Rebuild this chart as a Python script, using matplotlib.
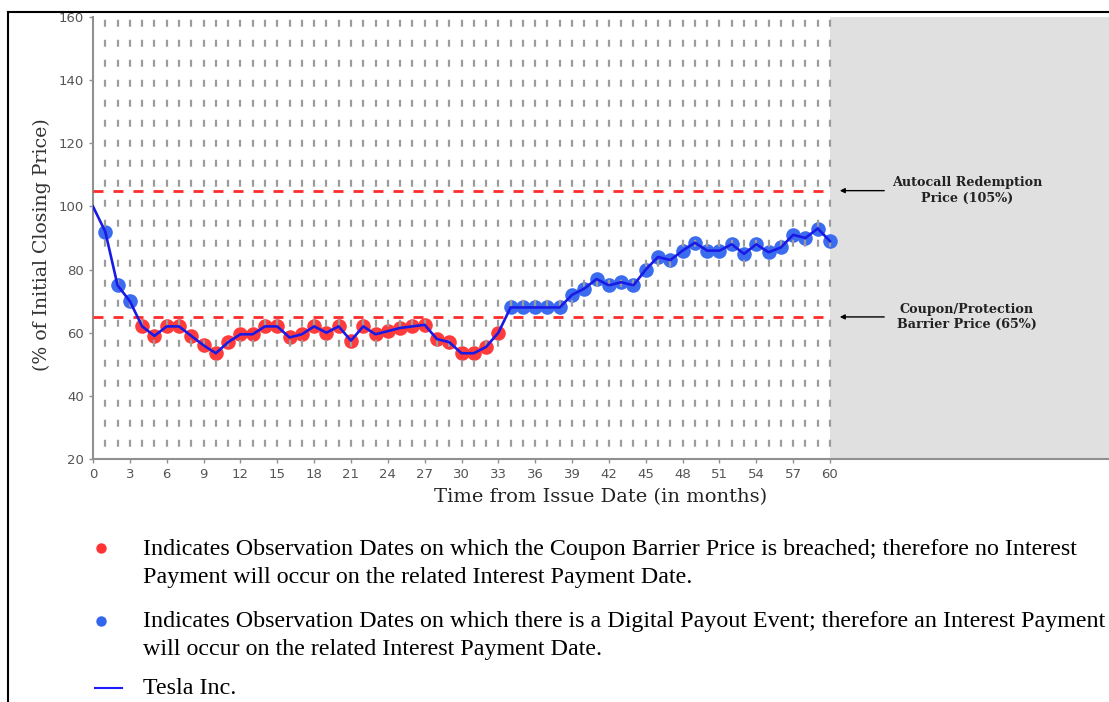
import matplotlib
matplotlib.use("Agg")
import matplotlib.pyplot as plt
from matplotlib.lines import Line2D
import numpy as np

plt.rcParams['lines.scale_dashes'] = False

# ---- data ----
months = list(range(0, 61))
closing_pct = [100, 92, 75, 70, 62, 59, 62, 62, 59, 56,
               53.5, 57, 59.5, 59.5, 62, 62, 58.5, 59.5, 62, 60,
               62, 57.5, 62, 59.5, 60.5, 61.5, 62, 62.5, 58, 57,
               53.5, 53.5, 55.5, 60, 68, 68, 68, 68, 68, 72,
               74, 77, 75, 76, 75, 80, 84, 83, 86, 88.5,
               86, 86, 88, 85, 88, 85.5, 87, 91, 90, 93, 89]
autocall_level = 105
barrier_level = 65
x_ticks = list(range(0, 61, 3))
y_ticks = list(range(20, 161, 20))

obs_months = np.array(months[1:])
obs_vals = np.array(closing_pct[1:])
breach = obs_vals < barrier_level

W, H = 1109, 702
fig = plt.figure(figsize=(W / 100, H / 100), dpi=100)

x0_px, x60_px = 93, 830
ax_left, ax_right = 93, 1109
ax_top, ax_bot = 17, 459
xmax = 60 * (ax_right - x0_px) / (x60_px - x0_px)
ax = fig.add_axes([ax_left / W, 1 - ax_bot / H, (ax_right - ax_left) / W, (ax_bot - ax_top) / H])
ax.set_xlim(0, xmax)
ax.set_ylim(20, 160)

# grey region after maturity
ax.axvspan(60, xmax, color='#e0e0e0', zorder=0, lw=0)

# markers
ax.plot(obs_months[breach], obs_vals[breach], 'o', ms=10.5, color='#ff3b3b', mec='none', zorder=2)
ax.plot(obs_months[~breach], obs_vals[~breach], 'o', ms=10.5, color='#3b6cf0', mec='none', zorder=2)

# vertical dashed grid
ax.vlines(obs_months, 160, 20, colors='#9c9c9c', lw=1.6,
          linestyles=[(12.4, (5.0, 9.4))], zorder=3)

# barrier lines
for lvl in (autocall_level, barrier_level):
    ax.plot([0, 60], [lvl, lvl], color='#ff2a2a', lw=2, ls=(0, (7.2, 7.2)), zorder=3)

# price line
ax.plot(months, closing_pct, color='#1a1ae6', lw=1.9, zorder=4, solid_joinstyle='round')

# axes styling
for s in ('top', 'right'):
    ax.spines[s].set_visible(False)
for s in ('left', 'bottom'):
    ax.spines[s].set_color('#909090')
    ax.spines[s].set_linewidth(1.5)
ax.set_xticks(x_ticks)
ax.set_yticks(y_ticks)
ax.tick_params(colors='#909090', labelcolor='#555555', labelsize=9.5, length=3, width=1)
ax.set_xlabel('Time from Issue Date (in months)', family='DejaVu Serif', fontsize=14,
              color='#222222', labelpad=5)
ax.set_ylabel('(% of Initial Closing Price)', family='DejaVu Serif', fontsize=13.6,
              color='#333333')
ax.yaxis.set_label_coords(-0.041, 0.486)

# annotations
def xf(px):
    return (px - x0_px) / (x60_px - x0_px) * 60

for lvl, txt in ((autocall_level, 'Autocall Redemption\nPrice (105%)'),
                 (barrier_level, 'Coupon/Protection\nBarrier Price (65%)')):
    ax.annotate('', xy=(xf(837), lvl), xytext=(xf(887), lvl),
                arrowprops=dict(arrowstyle='-|>', color='black', lw=1, mutation_scale=7),
                annotation_clip=False)
    ax.text(xf(967), lvl, txt, ha='center', va='center', family='DejaVu Serif',
            fontweight='bold', fontsize=9.2, color='#222222', linespacing=1.25)

# document border
fig.add_artist(Line2D([8 / W, 8 / W], [0, 1 - 12 / H], color='black', lw=1.5))
fig.add_artist(Line2D([8 / W, 1], [1 - 12 / H, 1 - 12 / H], color='black', lw=1.5))

# legend below
def fy(py):
    return 1 - py / H

fig.add_artist(Line2D([101 / W], [fy(548)], marker='o', ms=7.5, color='#ff3333', mec='none'))
fig.add_artist(Line2D([101 / W], [fy(621)], marker='o', ms=7.5, color='#3366ee', mec='none'))
fig.add_artist(Line2D([95 / W, 122 / W], [fy(688), fy(688)], color='#1a1aff', lw=1.5))
tkw = dict(family='Liberation Serif', fontsize=17.3, color='black', va='center', ha='left')
fig.text(143 / W, fy(549), 'Indicates Observation Dates on which the Coupon Barrier Price is breached; therefore no Interest', **tkw)
fig.text(143 / W, fy(577), 'Payment will occur on the related Interest Payment Date.', **tkw)
fig.text(143 / W, fy(621), 'Indicates Observation Dates on which there is a Digital Payout Event; therefore an Interest Payment', **tkw)
fig.text(143 / W, fy(649), 'will occur on the related Interest Payment Date.', **tkw)
fig.text(143 / W, fy(688), 'Tesla Inc.', **tkw)

fig.savefig('out.png', dpi=100)
